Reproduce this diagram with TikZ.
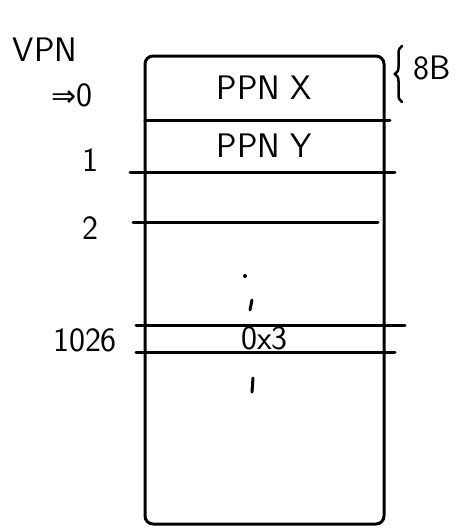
\documentclass[tikz,border=0pt]{standalone}
\usepackage{fontspec}
\usepackage{tikz}
\usetikzlibrary{positioning,decorations.pathreplacing}
\newfontfamily\arrowfont{DejaVu Sans}

\begin{document}
\begin{tikzpicture}[x=1pt, y=-1pt, line width=3pt, line cap=round,
    every node/.style={font=\sffamily\fontsize{34}{40}\selectfont, inner sep=0pt}]
      \useasboundingbox (0, 0) rectangle (468, 528);
      % page table
      \draw [rounded corners=8pt] (145, 56) rectangle (384, 524);
      \path (145, 56) rectangle (384, 120) node (ppnx) [pos=.5] {PPN X}
            (145, 120) rectangle (384, 172) node (ppny) [pos=.5] {PPN Y}
            (145, 325) rectangle (384, 352) node (hex) [pos=.5] {0x3};
      \draw (145, 120) -- (390, 120)
            (130, 172) -- (395, 172)
            (133, 222) -- (378, 222)
            (136, 325) -- (405, 325)
            (136, 352) -- (395, 352);
      \fill (245, 276) circle (2pt);
      \draw (252, 300) -- (250, 310)
            (253, 378) -- (252, 392);
      % VPN labels
      \node (vpn) at (45, 50) {VPN};
      \node (v0) at (72, 95) {{\arrowfont\fontsize{30}{34}\selectfont ⇒}0};
      \node (v1) at (90, 160) {1};
      \node (v2) at (90, 228) {2};
      \node (v1026) at (85, 340) {1026};
      % entry size
      \coordinate (btop) at (402, 46);
      \coordinate (bbot) at (402, 102);
      \draw [decorate, decoration={brace, amplitude=7pt, mirror}, line width=2.5pt]
            (btop) -- (bbot);
      \node (size) [right=10pt of btop, yshift=-22pt] {8B};
\end{tikzpicture}
\end{document}
